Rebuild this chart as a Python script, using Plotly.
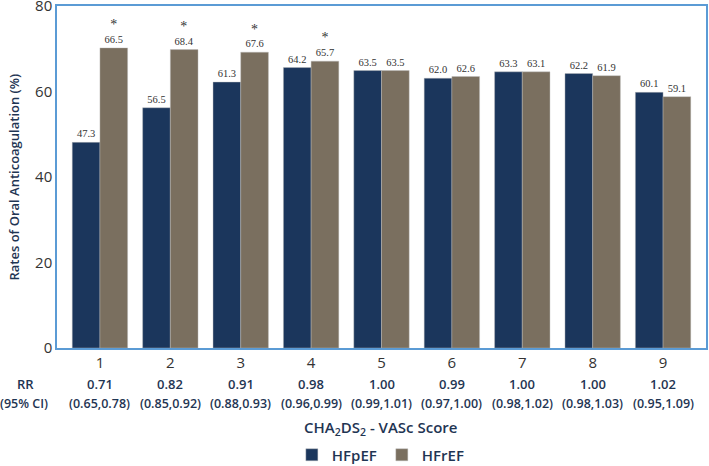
import plotly.graph_objects as go

scores = [1, 2, 3, 4, 5, 6, 7, 8, 9]
hfpef_bar = [48.1, 56.2, 62.2, 65.6, 64.9, 63.1, 64.6, 64.2, 59.8]
hfref_bar = [70.2, 69.8, 69.2, 67.1, 64.9, 63.5, 64.6, 63.7, 58.8]
hfpef_label = ["47.3", "56.5", "61.3", "64.2", "63.5", "62.0", "63.3", "62.2", "60.1"]
hfref_label = ["66.5", "68.4", "67.6", "65.7", "63.5", "62.6", "63.1", "61.9", "59.1"]
significant = [True, True, True, True, False, False, False, False, False]
rr = ["0.71", "0.82", "0.91", "0.98", "1.00", "0.99", "1.00", "1.00", "1.02"]
ci = ["(0.65,0.78)", "(0.85,0.92)", "(0.88,0.93)", "(0.96,0.99)", "(0.99,1.01)",
      "(0.97,1.00)", "(0.98,1.02)", "(0.98,1.03)", "(0.95,1.09)"]

NAVY = "#1b365c"
BROWN = "#7a6f5f"
TXT = "#1f3553"
SANS = "Open Sans"

star = '<span style="font-size:14px">*</span><br>'
hfref_text = [(star + t) if s else t for t, s in zip(hfref_label, significant)]

fig = go.Figure()
fig.add_trace(go.Bar(
    x=scores, y=hfpef_bar, name="HFpEF", marker_color=NAVY,
    marker_line=dict(color="rgba(190,190,190,0.7)", width=0.6),
    text=hfpef_label, textposition="outside", cliponaxis=False,
    constraintext="none",
    textfont=dict(family="Liberation Serif", size=10.5, color="#333333"),
))
fig.add_trace(go.Bar(
    x=scores, y=hfref_bar, name="HFrEF", marker_color=BROWN,
    marker_line=dict(color="rgba(190,190,190,0.7)", width=0.6),
    text=hfref_text, textposition="outside", cliponaxis=False,
    constraintext="none",
    textfont=dict(family="Liberation Serif", size=10.5, color="#333333"),
))

annotations = []
for s, r, c in zip(scores, rr, ci):
    annotations.append(dict(x=s, y=-0.105, xref="x", yref="paper", text=r,
                            showarrow=False, xanchor="center", yanchor="middle",
                            font=dict(family=SANS, size=13, color=TXT, weight=600)))
    annotations.append(dict(x=s, y=-0.161, xref="x", yref="paper", text=c,
                            showarrow=False, xanchor="center", yanchor="middle",
                            font=dict(family=SANS, size=12.5, color=TXT, weight=600)))
annotations.append(dict(x=-0.0493, y=-0.105, xref="paper", yref="paper", text="RR",
                        showarrow=False, xanchor="center", yanchor="middle",
                        font=dict(family=SANS, size=13, color=TXT, weight=600)))
annotations.append(dict(x=-0.0505, y=-0.161, xref="paper", yref="paper", text="(95% CI)",
                        showarrow=False, xanchor="center", yanchor="middle",
                        font=dict(family=SANS, size=12.5, color=TXT, weight=600)))
annotations.append(dict(x=0.499, y=-0.234, xref="paper", yref="paper",
                        text="CHA<sub>2</sub>DS<sub>2</sub> - VASc Score",
                        showarrow=False, xanchor="center", yanchor="middle",
                        font=dict(family=SANS, size=15, color=TXT, weight=600)))
annotations.append(dict(x=-0.067, y=0.5, xref="paper", yref="paper",
                        text="Rates of Oral Anticoagulation (%)", textangle=-90,
                        showarrow=False, xanchor="center", yanchor="middle",
                        font=dict(family=SANS, size=13, color=TXT, weight=600)))

fig.update_layout(
    width=709, height=466,
    margin=dict(l=57, r=3, t=6, b=118, autoexpand=False),
    paper_bgcolor="white", plot_bgcolor="white",
    barmode="group", bargap=0.213, bargroupgap=0,
    showlegend=True,
    legend=dict(orientation="h", x=0.499, xanchor="center", y=-0.313, yanchor="middle",
                font=dict(family=SANS, size=15, color=TXT, weight=600),
                itemwidth=30, traceorder="normal"),
    annotations=annotations,
    xaxis=dict(range=[0.39, 9.61], tickmode="array", tickvals=scores,
               ticktext=[str(s) for s in scores], showgrid=False, zeroline=False,
               showline=True, linecolor="#5b9bd5", linewidth=1.5, mirror=True,
               ticks="", automargin=False,
               tickfont=dict(family=SANS, size=15, color="#333333")),
    yaxis=dict(range=[0, 80], tickvals=[0, 20, 40, 60, 80], showgrid=False,
               zeroline=False, showline=True, linecolor="#5b9bd5", linewidth=1.5,
               mirror=True, ticks="", automargin=False, ticklabeloverflow="allow",
               tickfont=dict(family=SANS, size=15, color="#333333")),
    font=dict(family=SANS),
)

fig.write_html("out.html", config={"displayModeBar": False},
               post_script="document.body.style.margin='0px';document.body.style.overflow='hidden';")
